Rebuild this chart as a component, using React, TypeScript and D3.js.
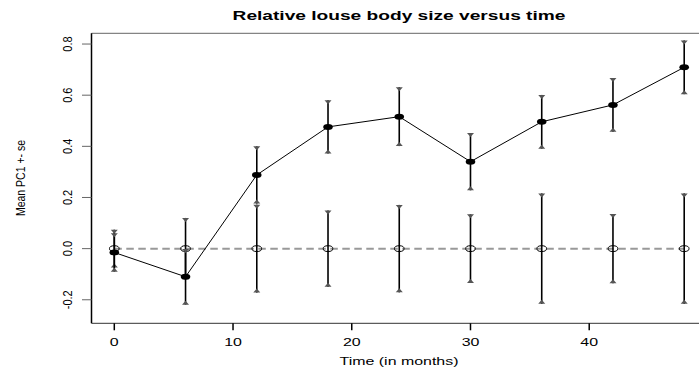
import * as d3 from "d3";

const W = 699;
const H = 369;

// months
const months = [0, 6, 12, 18, 24, 30, 36, 42, 48];
// filled series: mean PC1 and se
const meanPC1 = [-0.015, -0.11, 0.288, 0.476, 0.516, 0.34, 0.496, 0.562, 0.709];
const sePC1 = [0.075, 0.109, 0.112, 0.104, 0.115, 0.112, 0.105, 0.105, 0.105];
// reference series at zero, with its own se
const refMean = [0, 0, 0, 0, 0, 0, 0, 0, 0];
const refSe = [0.074, 0.12, 0.172, 0.149, 0.171, 0.134, 0.216, 0.135, 0.216];

const xTicks = [0, 10, 20, 30, 40];
const yTicks = [-0.2, 0.0, 0.2, 0.4, 0.6, 0.8];

const font = "'Liberation Sans', Arial, Helvetica, sans-serif";
const SX = 1.45; // the original picture is stretched sideways

const x = d3.scaleLinear().domain([-1.92, 49.92]).range([91.5, 707]);
const y = d3.scaleLinear().domain([-0.292, 0.842]).range([323.3, 33.3]);

function ErrorBars({ means, ses }: { means: number[]; ses: number[] }) {
  return (
    <g>
      {months.map((m, i) => {
        const cx = x(m);
        const top = y(means[i] + ses[i]);
        const bot = y(means[i] - ses[i]);
        return (
          <g key={m}>
            <line x1={cx} x2={cx} y1={top} y2={bot} stroke="#000" strokeWidth={1.6} />
            <path
              d={`M${cx - 3.5},${top}L${cx + 3.5},${top}L${cx},${top + 4}Z`}
              fill="#555"
            />
            <path
              d={`M${cx - 3.5},${bot}L${cx + 3.5},${bot}L${cx},${bot - 4}Z`}
              fill="#555"
            />
          </g>
        );
      })}
    </g>
  );
}

export default function App() {
  const line = d3
    .line<number>()
    .x((_, i) => x(months[i]))
    .y((d) => y(d));

  const left = 91.5;
  const top = 33.3;
  const bottom = 323.3;

  return (
    <svg
      width={W}
      height={H}
      style={{ position: "absolute", left: 0, top: 0, background: "#fff" }}
      fontFamily={font}
    >
      <rect width={W} height={H} fill="#fff" />

      {/* title */}
      <text
        transform={`translate(399,20) scale(${SX},1)`}
        textAnchor="middle"
        fontWeight="bold"
        fontSize={13.2}
      >
        Relative louse body size versus time
      </text>

      {/* box */}
      <line x1={left} x2={W} y1={top} y2={top} stroke="#666" strokeWidth={1} />
      <line x1={left} x2={W} y1={bottom} y2={bottom} stroke="#333" strokeWidth={1} />
      <line x1={left} x2={left} y1={top} y2={bottom} stroke="#000" strokeWidth={1.5} />

      {/* x axis */}
      {xTicks.map((t) => (
        <g key={t}>
          <line x1={x(t)} x2={x(t)} y1={bottom} y2={bottom + 7} stroke="#000" strokeWidth={1.5} />
          <text
            transform={`translate(${x(t)},346) scale(${SX},1)`}
            textAnchor="middle"
            fontSize={11}
          >
            {t}
          </text>
        </g>
      ))}
      <text
        transform={`translate(399,365) scale(${SX},1)`}
        textAnchor="middle"
        fontSize={11}
      >
        Time (in months)
      </text>

      {/* y axis */}
      {yTicks.map((t) => (
        <g key={t}>
          <line x1={left - 9.5} x2={left} y1={y(t)} y2={y(t)} stroke="#666" strokeWidth={1} />
          <text
            transform={`translate(72,${y(t)}) scale(1.2,1) rotate(-90)`}
            textAnchor="middle"
            fontSize={11}
          >
            {t.toFixed(1)}
          </text>
        </g>
      ))}
      <text
        transform={`translate(25,178) scale(1.3,1) rotate(-90)`}
        textAnchor="middle"
        fontSize={10.5}
      >
        Mean PC1 +- se
      </text>

      {/* reference series */}
      <path
        d={line(refMean) ?? ""}
        fill="none"
        stroke="#999"
        strokeWidth={2}
        strokeDasharray="7.5,4.5"
      />
      <ErrorBars means={refMean} ses={refSe} />
      {months.map((m, i) => (
        <ellipse
          key={m}
          cx={x(m)}
          cy={y(refMean[i])}
          rx={4.8}
          ry={2.9}
          fill="none"
          stroke="#000"
          strokeWidth={1}
        />
      ))}

      {/* mean series */}
      <path d={line(meanPC1) ?? ""} fill="none" stroke="#000" strokeWidth={1} />
      <ErrorBars means={meanPC1} ses={sePC1} />
      {months.map((m, i) => (
        <ellipse key={m} cx={x(m)} cy={y(meanPC1[i])} rx={4.8} ry={3} fill="#000" />
      ))}
    </svg>
  );
}
